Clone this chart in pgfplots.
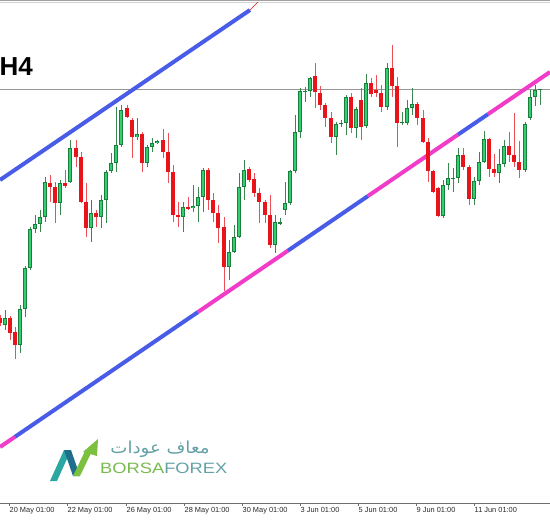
\documentclass[border=0pt]{standalone}
\usepackage{pgfplots}
\pgfplotsset{compat=1.18}
\usepackage{pgfplotstable}
\usepackage{fontspec}
\setmainfont{Liberation Sans}
\newfontfamily\arabicfont[Script=Arabic]{DejaVu Sans}
\TeXXeTstate=1

\definecolor{bullfill}{RGB}{52,206,112}
\definecolor{bulledge}{RGB}{24,128,60}
\definecolor{bullwick}{RGB}{60,135,80}
\definecolor{bearfill}{RGB}{232,20,26}
\definecolor{bearwick}{RGB}{236,80,86}
\definecolor{chanblue}{RGB}{72,92,232}
\definecolor{chanpink}{RGB}{240,60,200}
\definecolor{axisgray}{RGB}{110,110,110}
\definecolor{labelgray}{RGB}{40,40,40}
\definecolor{bidgray}{RGB}{150,150,150}
\definecolor{logoteal}{RGB}{42,167,160}
\definecolor{logoblue}{RGB}{30,110,140}
\definecolor{logogreen}{RGB}{124,192,64}
\definecolor{logotext}{RGB}{100,160,165}

% H4 candles, screen rows (0 = top): body top/bottom, wick top/bottom
\pgfplotstableread{
x   bt  bb    wt  wb
5   318 325   310 330
20  309 345   305 353
25  268 309   266 317
30  229 268   227 270
35  224 229   215 233
40  217 224   210 232
45  182 217   177 222
60  183 203   180 215
70  148 182   140 183
91  213 228   200 242
101 200 217   195 228
106 172 200   170 223
111 163 171   153 173
116 145 163   107 172
121 110 145   105 147
137 134 137   118 140
147 147 163   145 167
152 143 147   138 152
157 141 143   140 144
183 207 217   202 232
193 206 207.5 185 212
198 197 206   187 222
203 170 197   168 212
229 252 267   240 280
234 237 252   225 253
239 187 237   173 238
244 170 187   160 200
275 222 245   215 253
280 222 223   218 225
285 203 210   182 215
290 171 203   170 205
295 132 171   115 173
300 91  132   88  138
305 91  92    87  102
310 78  91    77  97
336 124 137   122 155
341 123 124   120 127
346 97  123   95  135
356 109 128   107 138
366 83  126   74  128
387 68  107   63  110
402 122 123   112 125
407 108 123   100 125
412 104 108   88  115
443 185 216   180 218
448 178 185   163 190
453 178 179   168 192
458 155 178   148 183
474 181 199   177 205
479 162 181   152 185
484 139 162   131 163
499 164 173   149 183
504 146 164   140 167
525 124 170   122 172
530 97  118   90  120
535 90  97    85  106
540 89  90    89  105
}\bull

\pgfplotstableread{
x   bt  bb    wt  wb
0   318 323   315 326
10  318 333   316 340
15  332 345   327 359
50  183 187   175 202
55  187 203   182 223
65  183 186   170 188
76  148 157   140 167
81  157 202   152 203
86  202 228   183 237
96  213 217   210 227
127 108 117   105 118
132 120 137   118 158
142 134 163   132 172
163 140 152   129 158
168 152 172   133 183
173 172 215   165 222
178 215 217   202 227
188 207 208   197 210
208 170 200   168 210
213 200 213   193 222
218 213 228   205 243
224 227 267   217 291
249 169 180   167 182
254 179 193   173 197
259 193 202   188 223
265 202 215   200 223
270 215 245   195 248
315 76  92    63  108
320 93  105   86  110
325 105 118   103 127
331 118 137   112 143
351 97  128   93  133
361 100 127   88  140
371 83  94    78  97
376 90  93    75  97
381 93  107   85  112
392 68  86    45  97
397 86  123   77  147
417 104 118   102 125
423 118 142   110 143
428 142 171   138 182
433 171 192   170 193
438 188 216   187 217
463 155 167   148 170
469 167 199   165 205
489 139 169   138 177
494 169 173   154 177
509 146 155   132 162
514 155 162   113 167
519 162 170   141 178
}\bear

\pgfplotsset{
  wicks/.style={draw=none, no markers, forget plot,
    error bars/.cd, y dir=both, y explicit, error mark=none,
    error bar style={line width=0.8bp, draw=#1, solid}},
  bodies/.style 2 args={draw=none, no markers, forget plot,
    error bars/.cd, y dir=both, y explicit, error mark=none,
    error bar style={line width=#2, draw=#1, line cap=butt, solid}},
}

\begin{document}
\begin{tikzpicture}
\useasboundingbox (0,-17bp) rectangle (550bp,503bp);
\begin{axis}[
  at={(0,0)}, anchor=south west,
  scale only axis, width=550bp, height=503bp,
  xmin=0, xmax=550, ymin=0, ymax=503, y dir=reverse,
  axis x line=bottom, axis y line=none,
  x axis line style={draw=axisgray, line width=0.8bp, -},
  xtick={9,67,126,184,242,300,358,416,474},
  xticklabels={20 May 01:00, 22 May 01:00, 26 May 01:00, 28 May 01:00,
    30 May 01:00, 3 Jun 01:00, 5 Jun 01:00, 9 Jun 01:00, 11 Jun 01:00},
  ytick=\empty,
  tick align=outside, major tick length=3bp,
  xtick style={draw=axisgray, line width=0.6bp},
  xticklabel style={anchor=north west, inner sep=0pt, xshift=0.5bp, yshift=-1.5bp,
    font=\fontsize{7.4bp}{8.5bp}\selectfont, text=labelgray},
  clip=true,
]
% chart frame at the top
\draw[gray!75, line width=0.9bp] (axis cs:0,0.8) -- (axis cs:550,0.8);
\draw[gray!35, line width=0.7bp] (axis cs:0,2.8) -- (axis cs:550,2.8);

% watermark logo
\fill[logoteal] (axis cs:50,481) -- (axis cs:57,481) -- (axis cs:71,450) -- (axis cs:64,450) -- cycle;
\fill[logoblue] (axis cs:64,450) -- (axis cs:71,450) -- (axis cs:80,476) -- (axis cs:73,476) -- cycle;
\fill[logogreen] (axis cs:73,476) -- (axis cs:80,476) -- (axis cs:93,449) -- (axis cs:86,449) -- cycle;
\fill[logogreen] (axis cs:83,452) -- (axis cs:98,439) -- (axis cs:97,456) -- cycle;
\node[anchor=west, inner sep=0pt, xscale=1.22, font=\fontsize{15bp}{16bp}\selectfont]
  at (axis cs:100,468) {\textcolor{logogreen!85!logotext}{BORSA}\textcolor{logotext}{FOREX}};
\node[inner sep=0pt, text=logotext, xscale=1.1, font=\fontsize{16.5bp}{18bp}\arabicfont]
  at (axis cs:160,449) {\beginR معاف عودات\endR};

% symbol period caption
\node[anchor=east, inner sep=0pt, font=\bfseries\fontsize{26bp}{28bp}\selectfont]
  at (axis cs:33,67) {H4};

% bid line
\addplot[bidgray, line width=0.6bp, forget plot] coordinates {(0,89) (550,89)};

% channel: upper line
\addplot[chanblue, line width=4bp, forget plot] coordinates {(0,180) (250,10)};
\addplot[bearfill, line width=0.5bp, forget plot] coordinates {(250,10) (258,2)};
% channel: lower line, alternating segments
\addplot[chanpink, line width=4bp, forget plot] coordinates {(0,447) (15,436.8)};
\addplot[chanblue, line width=4bp, forget plot] coordinates {(15,436.8) (198,312)};
\addplot[chanpink, line width=4bp, forget plot] coordinates {(198,312) (288,250.6)};
\addplot[chanblue, line width=4bp, forget plot] coordinates {(288,250.6) (368,196)};
\addplot[chanpink, line width=4bp, forget plot] coordinates {(368,196) (458,134.6)};
\addplot[chanblue, line width=4bp, forget plot] coordinates {(458,134.6) (488,114.2)};
\addplot[chanpink, line width=4bp, forget plot] coordinates {(488,114.2) (550,72)};

% wicks
\addplot[wicks=bullwick] table[x=x, y expr={(\thisrow{wt}+\thisrow{wb})/2},
  y error expr={(\thisrow{wb}-\thisrow{wt})/2}] {\bull};
\addplot[wicks=bearwick] table[x=x, y expr={(\thisrow{wt}+\thisrow{wb})/2},
  y error expr={(\thisrow{wb}-\thisrow{wt})/2}] {\bear};

% bodies
\addplot[bodies={bulledge}{3.6bp}] table[x=x, y expr={(\thisrow{bt}+\thisrow{bb})/2},
  y error expr={max((\thisrow{bb}-\thisrow{bt})/2,0.6)}] {\bull};
\addplot[bodies={bullfill}{2.2bp}] table[x=x, y expr={(\thisrow{bt}+\thisrow{bb})/2},
  y error expr={max((\thisrow{bb}-\thisrow{bt})/2-0.7,0)}] {\bull};
\addplot[bodies={bearfill}{3.6bp}] table[x=x, y expr={(\thisrow{bt}+\thisrow{bb})/2},
  y error expr={max((\thisrow{bb}-\thisrow{bt})/2,0.6)}] {\bear};
\end{axis}
\end{tikzpicture}
\end{document}
